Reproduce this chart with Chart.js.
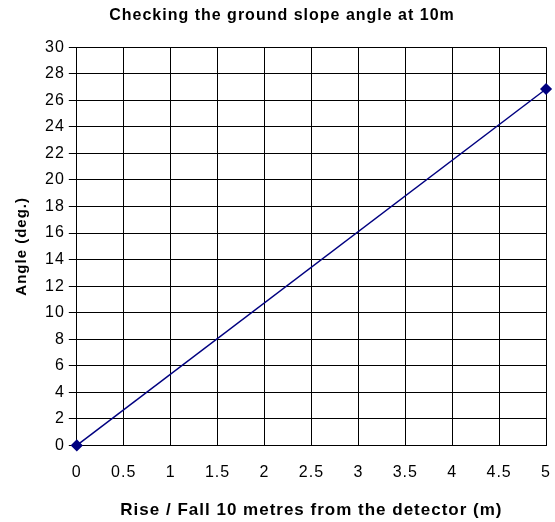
<!DOCTYPE html>
<html>
<head>
<meta charset="utf-8">
<script src="https://cdn.jsdelivr.net/npm/chart.js@4"></script>
<style>
  body { margin: 0; background: #fff; }
  #wrap { width: 555px; height: 522px; }
</style>
</head>
<body>
<div id="wrap"><canvas id="slopeChart"></canvas></div>
<script>
const riseFall = [0, 5];
const angles = [0, 26.85];

const points = riseFall.map((x, i) => ({ x: x, y: angles[i] }));

Chart.defaults.font.family = "'Liberation Sans', Arial, sans-serif";
Chart.defaults.color = '#000';

// the old chart's text is spaced a little wider than Liberation Sans
const spacing = {
    id: 'spacing',
    beforeUpdate(chart) { chart.ctx.letterSpacing = '1px'; },
    beforeDraw(chart) { chart.ctx.letterSpacing = '1px'; }
};

const ctx = document.getElementById('slopeChart').getContext('2d');

new Chart(ctx, {
    type: 'scatter',
    data: {
        datasets: [{
            label: 'Angle',
            data: points,
            showLine: true,
            clip: false,
            borderColor: '#000080',
            backgroundColor: '#000080',
            borderWidth: 1.5,
            pointStyle: 'rectRot',
            pointRadius: 5,
            pointHoverRadius: 5
        }]
    },
    options: {
        responsive: true,
        maintainAspectRatio: false,
        animation: false,
        layout: { padding: { top: 3, right: 4, bottom: 1, left: 13 } },
        plugins: {
            legend: { display: false },
            tooltip: { enabled: false },
            title: {
                display: true,
                text: 'Checking the ground slope angle at 10m',
                font: { size: 16, weight: 'bold' },
                padding: { top: 3, bottom: 22 }
            }
        },
        scales: {
            x: {
                type: 'linear',
                min: 0,
                max: 5,
                ticks: {
                    stepSize: 0.5,
                    font: { size: 16 },
                    padding: 4,
                    maxRotation: 0,
                    callback: v => String(v)
                },
                grid: { color: '#000', tickLength: 14, tickColor: 'rgba(0,0,0,0)' },
                border: { color: '#000' },
                title: {
                    display: true,
                    text: 'Rise / Fall 10 metres from the detector (m)',
                    font: { size: 17, weight: 'bold' },
                    padding: { top: 14, bottom: 0 }
                }
            },
            y: {
                min: 0,
                max: 30,
                ticks: { stepSize: 2, font: { size: 16 }, padding: 4 },
                grid: { color: '#000', tickLength: 8 },
                border: { color: '#000' },
                title: {
                    display: true,
                    text: 'Angle (deg.)',
                    font: { size: 15, weight: 'bold' },
                    padding: { top: 0, bottom: 10 }
                }
            }
        }
    },
    plugins: [spacing]
});
</script>
</body>
</html>
